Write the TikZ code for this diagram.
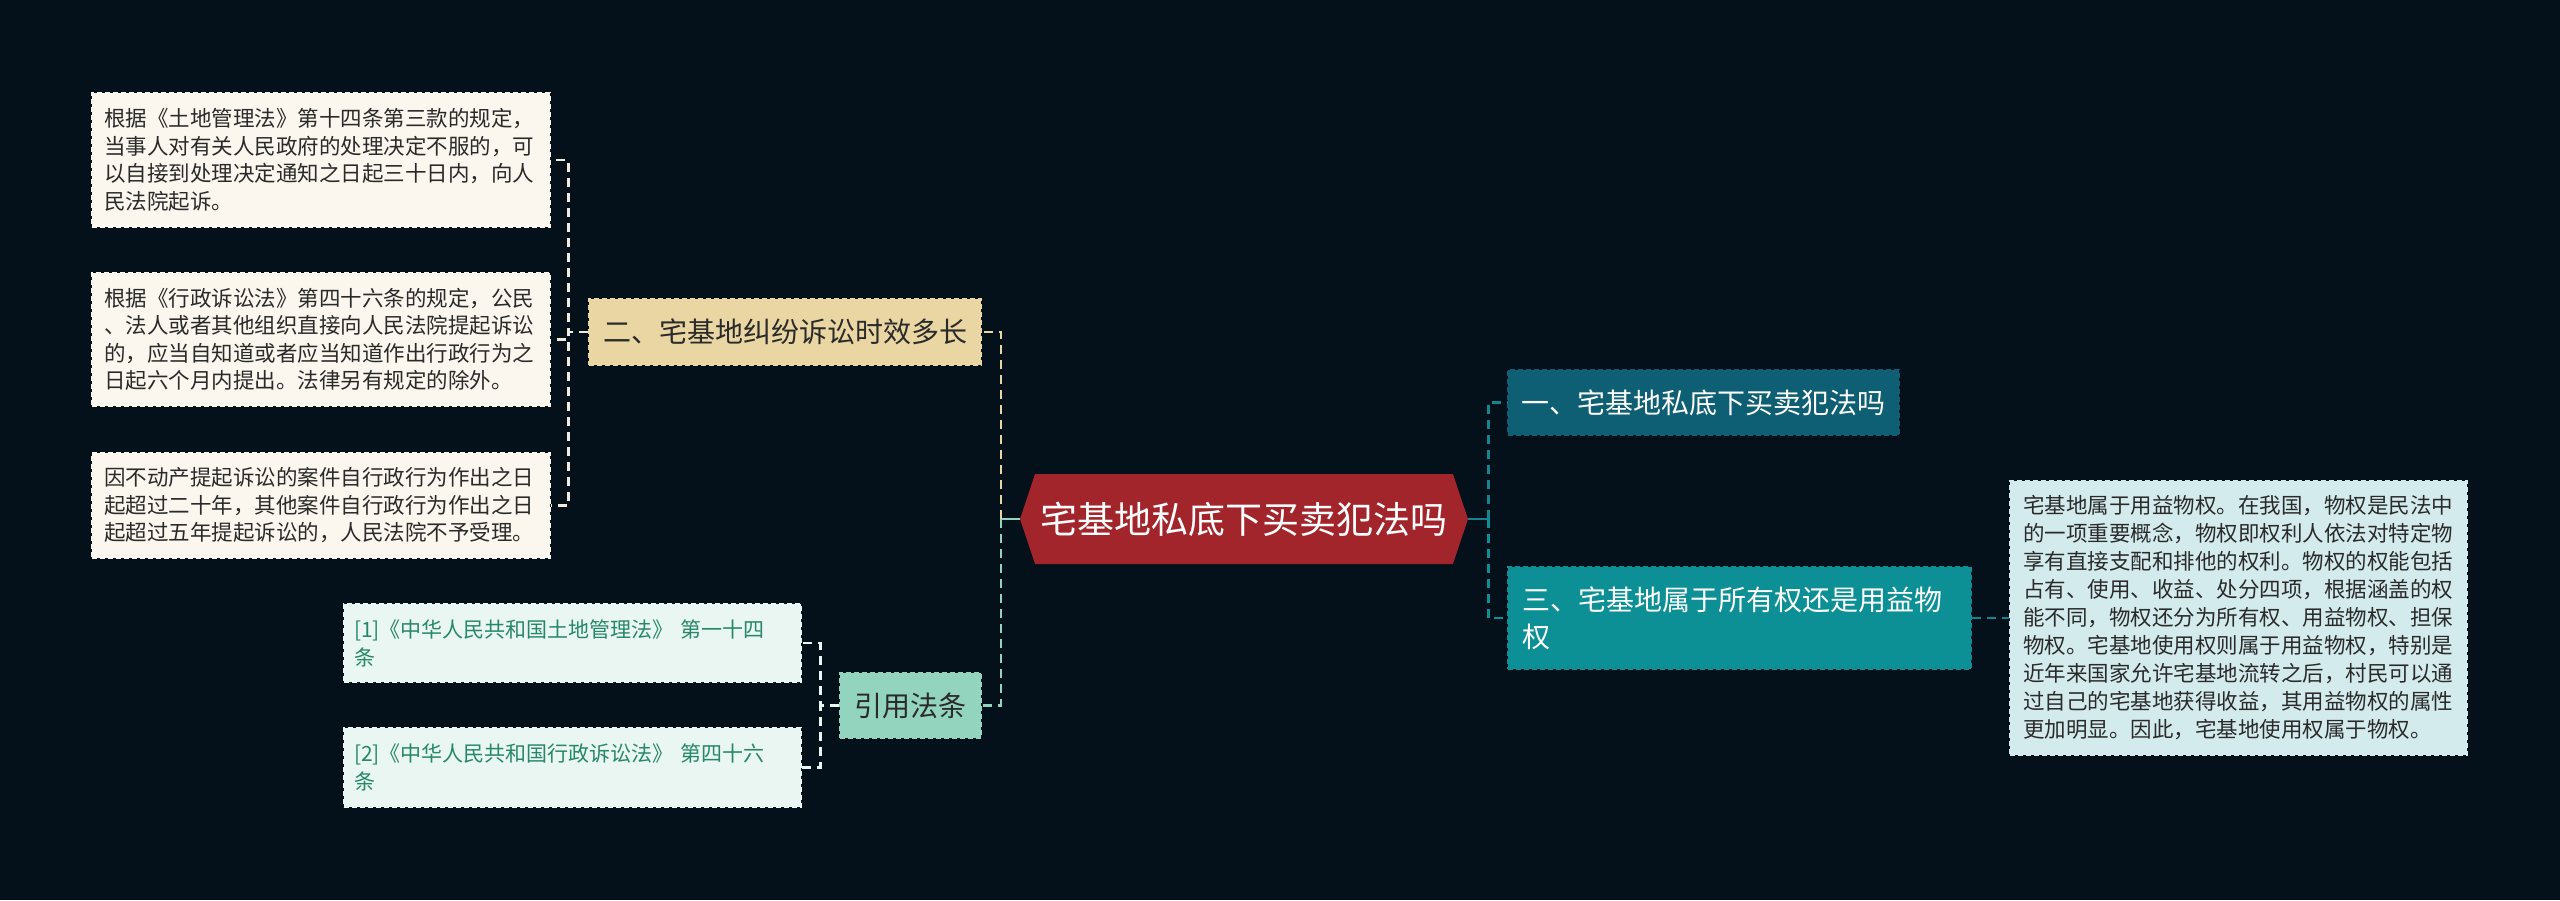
\documentclass[tikz,border=0pt]{standalone}
\usepackage{fontspec}
\setmainfont{Noto Sans CJK SC}
\usepackage{tikz}
\usetikzlibrary{shapes.symbols}

\definecolor{bg}{HTML}{04111A}
\definecolor{cream}{HTML}{FBF7EE}
\definecolor{creamline}{HTML}{F1ECDD}
\definecolor{sand}{HTML}{E9D6A3}
\definecolor{hubred}{HTML}{A2252B}
\definecolor{tealdark}{HTML}{0E5F73}
\definecolor{tealmid}{HTML}{0C9096}
\definecolor{tealline}{HTML}{14858E}
\definecolor{ice}{HTML}{D4EBEE}
\definecolor{mint}{HTML}{93D4BF}
\definecolor{mintpale}{HTML}{E9F6F1}
\definecolor{citetext}{HTML}{27876A}
\definecolor{ink}{HTML}{2A2A2A}

\tikzset{
  box/.style={rectangle, inner ysep=0pt, line width=1.6pt, dash pattern=on 5pt off 3pt},
  leaf/.style={box, fill=cream, draw=cream, text=ink, inner xsep=12pt,
    text width=434pt, align=left, font=\fontsize{21.5}{27.5}\selectfont},
  cite/.style={box, fill=mintpale, draw=mintpale, text=citetext, inner xsep=10pt,
    text width=437pt, align=left, font=\fontsize{21}{28}\selectfont},
  branch/.style={box, inner xsep=0pt, font=\fontsize{28}{37}\selectfont},
  link/.style={line width=2.6pt, dash pattern=on 9pt off 6pt},
}

\begin{document}
\begin{tikzpicture}[x=1pt, y=-1pt]
\fill[bg] (0,0) rectangle (2560,900);
\useasboundingbox (0,0) rectangle (2560,900);

% centre
\node[signal, signal to=west and east, signal pointer angle=143, fill=hubred,
  text=white, inner sep=0pt, minimum width=448pt, minimum height=90pt,
  font=\fontsize{37}{44}\selectfont] (hub) at (1244,519) {宅基地私底下买卖犯法吗};

% left side
\node[branch, fill=sand, draw=sand, text=ink, minimum width=392pt, minimum height=66pt]
  (b2) at (785,332) {二、宅基地纠纷诉讼时效多长};
\node[leaf, minimum height=134pt] (l1) at (321,160)
  {根据《土地管理法》第十四条第三款的规定，\\当事人对有关人民政府的处理决定不服的，可\\以自接到处理决定通知之日起三十日内，向人\\民法院起诉。};
\node[leaf, minimum height=133pt] (l2) at (321,339.5)
  {根据《行政诉讼法》第四十六条的规定，公民\\、法人或者其他组织直接向人民法院提起诉讼\\的，应当自知道或者应当知道作出行政行为之\\日起六个月内提出。法律另有规定的除外。};
\node[leaf, minimum height=105pt] (l3) at (321,505.5)
  {因不动产提起诉讼的案件自行政行为作出之日\\起超过二十年，其他案件自行政行为作出之日\\起超过五年提起诉讼的，人民法院不予受理。};

\node[branch, fill=mint, draw=mint, text=ink, minimum width=141pt, minimum height=65pt]
  (yf) at (910.5,705.5) {引用法条};
\node[cite, minimum height=78pt] (c1) at (572.5,643)
  {[1]《中华人民共和国土地管理法》 第一十四\\条};
\node[cite, minimum height=79pt] (c2) at (572.5,767.5)
  {[2]《中华人民共和国行政诉讼法》 第四十六\\条};

% right side
\node[branch, fill=tealdark, draw=tealdark, text=white, minimum width=391pt, minimum height=65pt]
  (b1) at (1703.5,402.5) {一、宅基地私底下买卖犯法吗};
\node[branch, fill=tealmid, draw=tealmid, text=white, inner xsep=14pt, text width=435pt,
  align=left, minimum height=102pt] (b3) at (1739.5,618)
  {三、宅基地属于所有权还是用益物\\权};
\node[box, fill=ice, draw=ice, text=ink, inner xsep=13pt, text width=431pt, align=left,
  minimum height=274pt, font=\fontsize{21.5}{28}\selectfont] (r1) at (2238.5,618)
  {宅基地属于用益物权。在我国，物权是民法中\\的一项重要概念，物权即权利人依法对特定物\\享有直接支配和排他的权利。物权的权能包括\\占有、使用、收益、处分四项，根据涵盖的权\\能不同，物权还分为所有权、用益物权、担保\\物权。宅基地使用权则属于用益物权，特别是\\近年来国家允许宅基地流转之后，村民可以通\\过自己的宅基地获得收益，其用益物权的属性\\更加明显。因此，宅基地使用权属于物权。};

% connectors
\coordinate (hubL) at ([xshift=-19pt]hub.west);
\coordinate (hubR) at ([xshift=20pt]hub.east);
\draw[line width=2.6pt, mint] (hub.west) -- (hubL);
\draw[line width=2.6pt, tealline] (hub.east) -- (hubR);
\draw[link, sand] (hubL) |- (b2.east);
\draw[link, mint] (hubL) |- (yf.east);
\draw[link, creamline] (b2.west) -- ++(-20,0) |- (l1.east);
\draw[link, creamline] (b2.west) -- ++(-20,0) |- (l2.east);
\draw[link, creamline] (b2.west) -- ++(-20,0) |- (l3.east);
\draw[link, mintpale] (yf.west) -- ++(-19,0) |- (c1.east);
\draw[link, mintpale] (yf.west) -- ++(-19,0) |- (c2.east);
\draw[link, tealline] (hubR) |- (b1.west);
\draw[link, tealmid] (hubR) |- (b3.west);
\draw[link, tealline] (b3.east) -- (r1.west);
\end{tikzpicture}
\end{document}
